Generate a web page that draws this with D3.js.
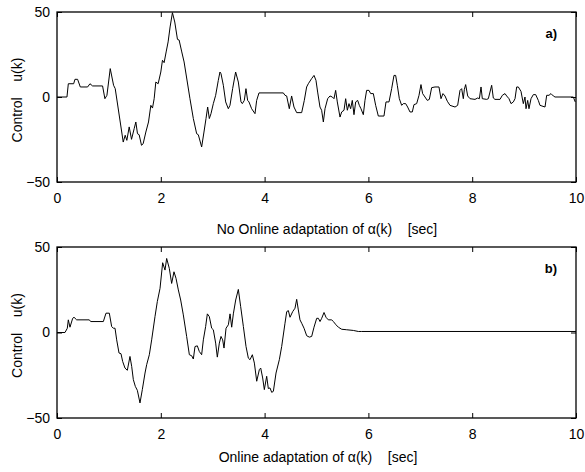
<!DOCTYPE html>
<html>
<head>
<meta charset="utf-8">
<script src="https://cdn.jsdelivr.net/npm/d3@7"></script>
<style>
  body { margin: 0; background: #fff; }
  svg text { font-family: "Liberation Sans", Arial, sans-serif; }
</style>
</head>
<body>
<div id="chart"></div>
<script>
// Panel a) : no online adaptation, control u(k) samples
const timeA = [0, 0.192, 0.218, 0.321, 0.346, 0.397, 0.449, 0.590, 0.635, 0.686, 0.878, 0.923, 0.962, 1.026, 1.090, 1.122,
  1.276, 1.314, 1.346, 1.391, 1.436, 1.487, 1.519, 1.551, 1.583, 1.628, 1.660, 1.712, 1.763, 1.808, 1.840, 1.872,
  1.904, 1.949, 2.000, 2.032, 2.064, 2.103, 2.141, 2.179, 2.224, 2.269, 2.321, 2.353, 2.404, 2.449,
  2.562, 2.627, 2.691, 2.723, 2.787, 2.832, 2.871, 2.903, 2.935, 2.967, 3.012, 3.057, 3.108, 3.140, 3.160, 3.205,
  3.250, 3.301, 3.333, 3.384, 3.442, 3.494, 3.545, 3.571, 3.609, 3.641, 3.673, 3.699, 3.750, 3.815, 3.847, 3.892,
  4.361, 4.393, 4.425, 4.476, 4.521, 4.566, 4.618, 4.714, 4.765, 4.810, 4.842, 4.906, 4.952, 4.990, 5.022, 5.067,
  5.099, 5.132, 5.164, 5.215, 5.260, 5.305, 5.337, 5.369, 5.401, 5.453, 5.485, 5.530, 5.562, 5.594, 5.626, 5.658,
  5.690, 5.722, 5.755, 5.793, 5.825, 5.857, 5.902, 5.934, 5.966, 6.011, 6.044, 6.095, 6.140, 6.191, 6.300, 6.339,
  6.397, 6.448, 6.493, 6.525, 6.557, 6.596, 6.641, 6.673, 6.718, 6.756, 6.801, 6.846, 6.878, 6.930, 6.975, 7.013,
  7.045, 7.090, 7.135, 7.174, 7.219, 7.283, 7.360, 7.399, 7.437, 7.476, 7.521, 7.572, 7.669, 7.720, 7.765, 7.797,
  7.829, 7.849, 7.874, 7.913, 7.958, 8.054, 8.105, 8.138, 8.170, 8.195, 8.279, 8.311, 8.375, 8.407, 8.439, 8.536,
  8.581, 8.632, 8.664, 8.709, 8.748, 8.793, 8.825, 8.857, 8.889, 8.940, 8.985, 9.017, 9.037, 9.069, 9.094, 9.133,
  9.178, 9.223, 9.274, 9.306, 9.403, 9.435, 9.480, 9.518, 9.563, 9.596, 9.949, 9.985];
const controlA = [0, 0, 7.8, 7.8, 10.4, 10.4, 5.9, 5.9, 7.8, 6.5, 6.5, -1.0, 1.0, 16.7, 6.9, 4.9,
  -26.5, -22.5, -25.5, -17.6, -24.9, -18.6, -14.7, -21.6, -22.2, -28.4, -27.5, -20.6, -14.7, -4.9, -6.5, -1.0,
  8.8, 7.8, 14.7, 21.6, 20.2, 26.5, 32.4, 41.2, 49.6, 44.1, 33.9, 33.5, 26.5, 20.6,
  -1.0, -12.7, -21.6, -22.2, -29.4, -20.6, -12.7, -5.9, -12.7, -9.8, -3.9, 1.0, 9.8, 14.7, 13.7, 6.9,
  -2.9, -6.9, -4.9, 4.9, 14.7, 8.8, -2.9, -3.9, -2.0, 4.9, -2.0, -2.9, -6.9, -9.8, -2.0, 2.4,
  2.4, 1.0, 0.6, -6.9, 0.6, -5.9, -9.2, -9.2, -2.0, 5.9, 7.8, 10.8, 12.7, 9.8, 2.9, -5.9,
  -7.8, -14.7, -6.9, -1.0, 0.6, 0, -1.0, 3.9, -2.9, -11.8, -8.8, -7.8, -1.0, -7.8, -3.9, -6.9,
  -2.0, -10.4, -2.9, -2.0, -4.9, -6.9, -10.4, -2.0, 3.9, 3.9, 2.0, 2.0, -4.9, -11.2, -11.2, -2.9,
  -2.9, 4.9, 12.7, 12.7, 6.9, -1.0, -4.9, -3.9, -3.9, -5.9, -8.8, -8.8, -4.5, -3.9, 1.0, 7.3,
  2.0, 0, -2.0, -1.4, 5.5, 5.9, 5.9, -1.0, 2.0, 0.6, -2.5, -4.9, -5.9, -4.9, 3.9, 4.9,
  -1.0, 4.5, 7.3, 0.6, -1.0, -1.4, -0.6, -1.0, 5.9, -1.0, -1.4, -1.0, 6.9, -0.6, -1.4, -1.4,
  1.0, 2.0, 0.6, -1.0, -3.9, -2.9, -1.0, 5.9, 5.9, 3.3, -3.9, 0, -6.9, -2.0, -6.9, -1.0,
  1.4, 1.4, -2.0, -4.9, -5.9, 1.0, 1.0, 2.0, 0.6, 0, 0, -2.9];

// Panel b) : online adaptation of alpha(k)
const timeB = [0, 0.154, 0.199, 0.218, 0.250, 0.302, 0.328, 0.379, 0.623, 0.649, 0.893, 0.944, 1.008, 1.053, 1.085, 1.118,
  1.150, 1.195, 1.233, 1.265, 1.310, 1.355, 1.406, 1.439, 1.471, 1.509, 1.548, 1.599, 1.644, 1.696, 1.728, 1.779,
  1.824, 1.888, 1.933, 1.985, 2.036, 2.081, 2.113, 2.164, 2.209, 2.254, 2.293, 2.338, 2.383, 2.434, 2.498, 2.550,
  2.595, 2.627, 2.659, 2.704, 2.742, 2.787, 2.820, 2.864, 2.897, 2.935, 2.980, 3.012, 3.057, 3.089, 3.128, 3.160,
  3.192, 3.218, 3.257, 3.302, 3.334, 3.366, 3.398, 3.443, 3.494, 3.539, 3.591, 3.642, 3.687, 3.719, 3.764, 3.803,
  3.848, 3.899, 3.925, 3.963, 3.995, 4.040, 4.072, 4.104, 4.137, 4.169, 4.220, 4.284, 4.329, 4.393, 4.426, 4.458,
  4.490, 4.541, 4.586, 4.618, 4.650, 4.682, 4.715, 4.760, 4.811, 4.862, 4.907, 4.952, 5.004, 5.036, 5.068, 5.100,
  5.145, 5.183, 5.228, 5.293, 5.325, 5.376, 5.421, 5.485, 5.582, 5.710, 5.806, 5.871, 10];
const controlB = [0, 0, 2.5, 7.4, 3.1, 8.3, 8.9, 7.4, 7.4, 6.4, 6.4, 11.3, 11.3, 3.5, 2.5, 2.5,
  -4.3, -12.0, -12.4, -16.9, -20.8, -22.1, -14.0, -19.8, -27.6, -31.5, -33.8, -41.2, -33.4, -23.7, -18.8, -13.0,
  -4.3, 9.3, 18.1, 25.8, 40.8, 36.5, 43.3, 37.5, 28.7, 35.5, 31.7, 24.9, 19.0, 10.3, -2.3, -13.0,
  -13.6, -15.5, -8.2, -7.8, -11.1, -13.0, -4.3, 3.5, 10.9, 9.3, 2.5, 1.6, -6.2, -14.4, -6.2, -2.3,
  -4.3, -9.1, 2.5, 4.5, 10.9, 3.1, 10.9, 19.0, 25.2, 15.1, 3.5, -8.2, -15.0, -15.9, -13.0, -17.9,
  -28.5, -21.7, -20.8, -26.6, -33.4, -25.6, -32.8, -32.4, -35.0, -34.4, -23.7, -15.9, -8.2, 5.4, 12.2, 12.8,
  8.9, 12.2, 14.2, 19.4, 13.2, 7.4, 5.4, 2.5, -1.9, -2.7, -2.3, 3.1, 8.3, 8.3, 6.4, 8.3,
  11.7, 8.9, 7.4, 7.4, 6.4, 4.5, 3.1, 1.9, 1.6, 1.2, 0.6, 0.6, 0.6];

const xTicks = [0, 2, 4, 6, 8, 10];
const yTicks = [-50, 0, 50];

const panels = [
  { time: timeA, control: controlA, top: 12, bottom: 182, tag: "a)",
    xlabel: "No Online adaptation of \u03b1(k)    [sec]", xlabelX: 327, xlabelY: 234 },
  { time: timeB, control: controlB, top: 247, bottom: 418, tag: "b)",
    xlabel: "Online adaptation of \u03b1(k)    [sec]", xlabelX: 318, xlabelY: 462 }
];

const left = 57, right = 576;

const svg = d3.select("#chart")
    .append("svg")
    .attr("width", 585)
    .attr("height", 472);

const x = d3.scaleLinear().domain([0, 10]).range([left, right]);

panels.forEach(p => {
  const y = d3.scaleLinear().domain([-50, 50]).range([p.bottom, p.top]);
  const g = svg.append("g");

  // bottom axis with labels, ticks inside
  g.append("g")
      .attr("transform", `translate(0,${p.bottom})`)
      .call(d3.axisBottom(x).tickValues(xTicks).tickSizeInner(-5).tickSizeOuter(0).tickPadding(11))
      .call(a => a.select(".domain").remove());
  // top ticks only
  g.append("g")
      .attr("transform", `translate(0,${p.top})`)
      .call(d3.axisTop(x).tickValues(xTicks).tickSizeInner(-5).tickSizeOuter(0).tickFormat(""))
      .call(a => a.select(".domain").remove());
  // left axis with labels
  g.append("g")
      .attr("transform", `translate(${left},0)`)
      .call(d3.axisLeft(y).tickValues(yTicks).tickSizeInner(-5).tickSizeOuter(0).tickPadding(7))
      .call(a => a.select(".domain").remove());
  // right ticks only
  g.append("g")
      .attr("transform", `translate(${right},0)`)
      .call(d3.axisRight(y).tickValues(yTicks).tickSizeInner(-5).tickSizeOuter(0).tickFormat(""))
      .call(a => a.select(".domain").remove());

  g.selectAll(".tick line").attr("stroke", "#000");
  g.selectAll(".tick text").attr("font-size", 14).attr("fill", "#000")
      .attr("font-family", "Liberation Sans, Arial, sans-serif");

  // frame
  g.append("rect")
      .attr("x", left)
      .attr("y", p.top)
      .attr("width", right - left)
      .attr("height", p.bottom - p.top)
      .attr("fill", "none")
      .attr("stroke", "#000")
      .attr("stroke-width", 1.3);

  // trace
  const pts = p.time.map((t, i) => [t, p.control[i]]);
  g.append("path")
      .datum(pts)
      .attr("fill", "none")
      .attr("stroke", "#000")
      .attr("stroke-width", 1)
      .attr("d", d3.line().x(d => x(d[0])).y(d => y(d[1])));

  // panel tag
  g.append("text")
      .attr("x", 557)
      .attr("y", p.top + 26)
      .attr("text-anchor", "end")
      .attr("font-size", 13)
      .attr("font-weight", "bold")
      .text(p.tag);

  // x label
  g.append("text")
      .attr("x", p.xlabelX)
      .attr("y", p.xlabelY)
      .attr("text-anchor", "middle")
      .attr("font-size", 14)
      .attr("xml:space", "preserve")
      .style("white-space", "pre")
      .text(p.xlabel);

  // y label
  g.append("text")
      .attr("transform", `translate(22,${(p.top + p.bottom) / 2 + 3}) rotate(-90)`)
      .attr("text-anchor", "middle")
      .attr("font-size", 14)
      .style("white-space", "pre")
      .text("Control    u(k)");
});
</script>
</body>
</html>
